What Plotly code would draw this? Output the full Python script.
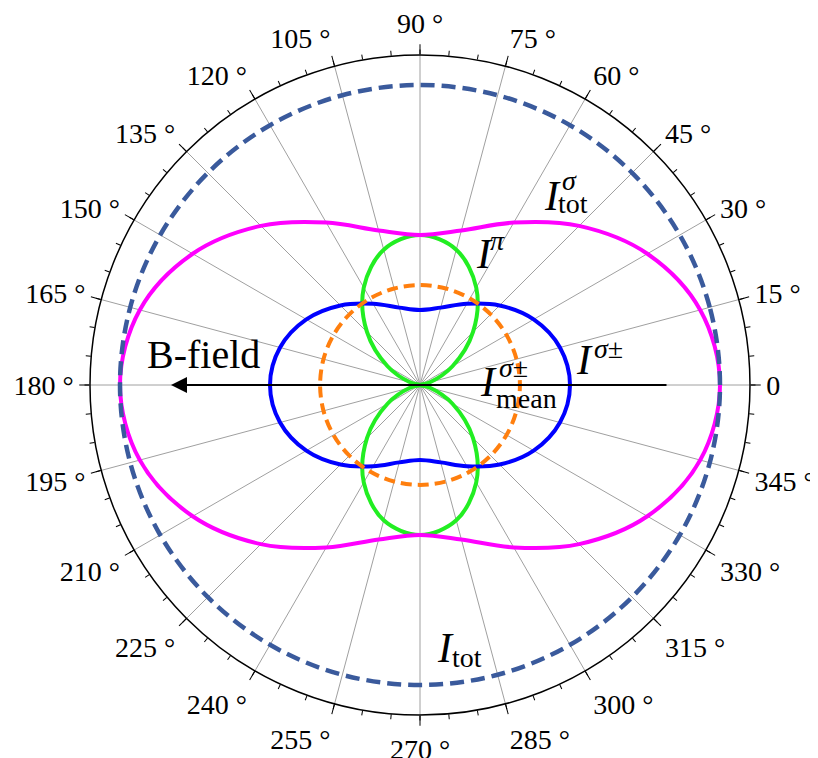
import plotly.graph_objects as go

# page body has an 8px margin, so the figure is 8px smaller than the window
W, H = 810, 750
OFF = 8

# ---- data (I_tot normalised to 1) ----
theta = [0, 15, 30, 45, 60, 75, 90, 105, 120, 135, 150, 165, 180,
         195, 210, 225, 240, 255, 270, 285, 300, 315, 330, 345, 360]
i_sigma_tot = [1.0, 0.967, 0.875, 0.75, 0.625, 0.533, 0.5, 0.533, 0.625, 0.75, 0.875, 0.967, 1.0,
               0.967, 0.875, 0.75, 0.625, 0.533, 0.5, 0.533, 0.625, 0.75, 0.875, 0.967, 1.0]
i_sigma_pm = [0.5, 0.483, 0.4375, 0.375, 0.3125, 0.267, 0.25, 0.267, 0.3125, 0.375, 0.4375, 0.483, 0.5,
              0.483, 0.4375, 0.375, 0.3125, 0.267, 0.25, 0.267, 0.3125, 0.375, 0.4375, 0.483, 0.5]
i_pi = [0.0, 0.033, 0.125, 0.25, 0.375, 0.467, 0.5, 0.467, 0.375, 0.25, 0.125, 0.033, 0.0,
        0.033, 0.125, 0.25, 0.375, 0.467, 0.5, 0.467, 0.375, 0.25, 0.125, 0.033, 0.0]
i_mean = [0.333] * len(theta)
i_tot = [1.0] * len(theta)

major_ticks = list(range(0, 360, 15))
major_labels = ["0"] + [f"{a} °" for a in major_ticks[1:]]
minor_ticks = list(range(0, 360, 5))

SERIF = "Liberation Serif, Times New Roman, serif"

fig = go.Figure()

def add(r, color, width, dash=None):
    fig.add_trace(go.Scatterpolar(
        r=r, theta=theta, mode="lines",
        line=dict(color=color, width=width, shape="spline", smoothing=1.0,
                  dash=dash if dash else "solid"),
        hoverinfo="skip", showlegend=False, subplot="polar"))

add(i_pi, "#22ee22", 4)
add(i_sigma_pm, "#0000ff", 4)
add(i_sigma_tot, "#ff00ff", 4)
add(i_mean, "#ff7f0e", 4, "11px,6px")
add(i_tot, "#3a5a9c", 4.5, "14px,7px")

# empty trace to activate the minor-tick overlay subplot
fig.add_trace(go.Scatterpolar(r=[], theta=[], subplot="polar2", showlegend=False))

def px(x):
    return (x - OFF) / W

def py(y):
    return 1 - (y - OFF) / H

dom = dict(x=[px(90), px(750)], y=[py(715), py(55)])

fig.update_layout(
    width=W, height=H,
    margin=dict(l=0, r=0, t=0, b=0),
    paper_bgcolor="white",
    showlegend=False,
    polar=dict(
        domain=dom,
        bgcolor="white",
        radialaxis=dict(range=[0, 1.1], visible=False),
        angularaxis=dict(
            rotation=0, direction="counterclockwise",
            tickmode="array", tickvals=major_ticks, ticktext=major_labels,
            ticks="outside", ticklen=10, tickwidth=1.3, tickcolor="black",
            showline=True, linecolor="black", linewidth=1.5,
            showgrid=True, gridcolor="#a0a0a0", gridwidth=1,
            tickfont=dict(family=SERIF, size=28, color="black"),
        ),
    ),
    polar2=dict(
        domain=dom,
        bgcolor="rgba(0,0,0,0)",
        radialaxis=dict(range=[0, 1.1], visible=False),
        angularaxis=dict(
            rotation=0, direction="counterclockwise",
            tickmode="array", tickvals=minor_ticks,
            ticks="outside", ticklen=5, tickwidth=1.2, tickcolor="black",
            showline=False, showgrid=False, showticklabels=False,
        ),
    ),
)

def label(text, x, y, size):
    fig.add_annotation(text=text, x=px(x), y=py(y), xref="paper", yref="paper",
                       showarrow=False, xanchor="center", yanchor="middle",
                       font=dict(family=SERIF, size=size, color="black"))

BIG, SMALL = 42, 28
# I_tot^sigma
label("<i>I</i>", 552, 196, BIG)
label("<i>σ</i>", 569, 180, SMALL)
label("tot", 573, 204, SMALL)
# I^pi
label("<i>I</i>", 484, 254, BIG)
label("<i>π</i>", 497, 240, SMALL)
# I^sigma±
label("<i>I</i>", 584, 360, BIG)
label("<i>σ</i>±", 608, 348, SMALL)
# I_mean^sigma±
label("<i>I</i>", 489, 382, BIG)
label("<i>σ</i>±", 513, 367, SMALL)
label("mean", 526, 398, SMALL)
# I_tot
label("<i>I</i>", 445, 648, BIG)
label("tot", 467, 657, SMALL)
# B-field
label("B-field", 203, 354, 40)

# arrow
fig.add_annotation(x=px(171), y=py(385), xref="paper", yref="paper",
                   ax=668 - 171, ay=0, axref="pixel", ayref="pixel",
                   text="", showarrow=True, arrowhead=2, arrowsize=1.6,
                   arrowwidth=2, arrowcolor="black")

fig.write_html("out.html")
